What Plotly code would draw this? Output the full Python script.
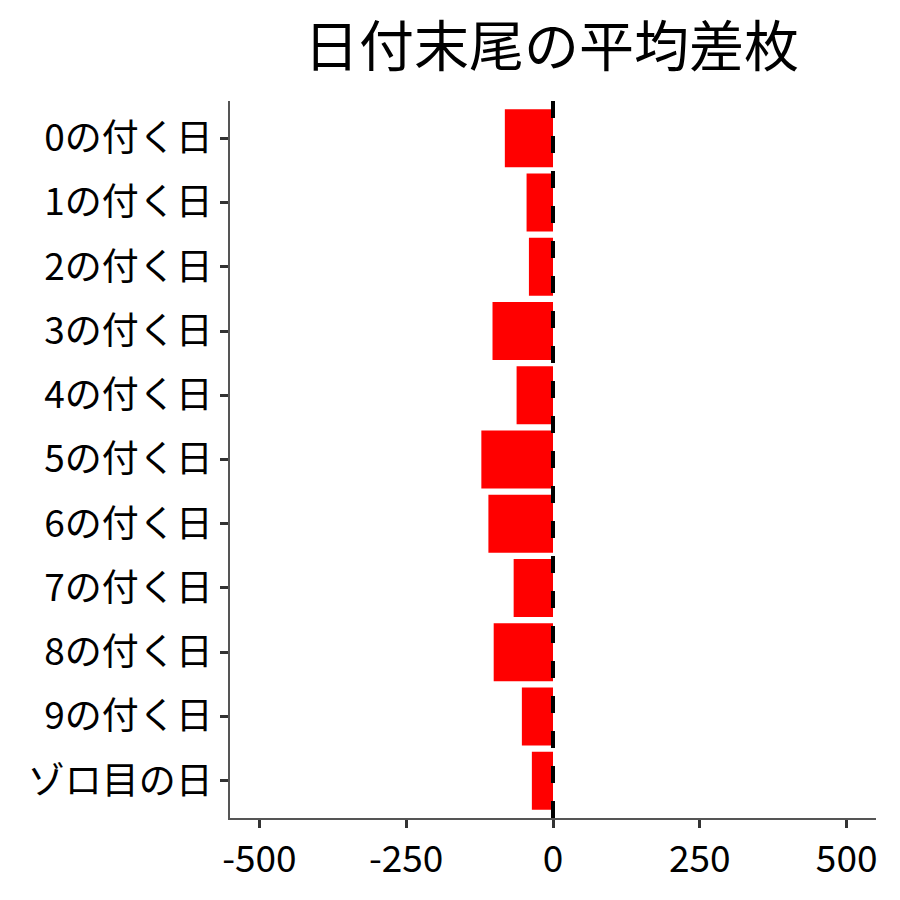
import plotly.graph_objects as go

# 日付末尾ごとの平均差枚
labels = ["0の付く日", "1の付く日", "2の付く日", "3の付く日", "4の付く日",
          "5の付く日", "6の付く日", "7の付く日", "8の付く日", "9の付く日", "ゾロ目の日"]
values = [-82, -45, -41, -103, -62, -122, -110, -67, -101, -53, -36]
x_ticks = [-500, -250, 0, 250, 500]

font = "Noto Sans CJK JP"

fig = go.Figure()
fig.add_trace(go.Bar(x=values, y=labels, orientation="h",
                     marker=dict(color="#ff0000", line=dict(width=0)),
                     width=0.9))

# ゼロの位置に点線
fig.add_vline(x=0, line=dict(color="black", width=4, dash="17px,18px"))

# ページの余白(8px)を考慮したマージン
fig.update_layout(
    title=dict(text="日付末尾の平均差枚", x=0.604, xanchor="center", y=0.957, yanchor="middle",
               font=dict(family=font, size=55, color="black")),
    width=900, height=900,
    margin=dict(l=222, r=32, t=93, b=90),
    plot_bgcolor="white", paper_bgcolor="white",
    showlegend=False,
    font=dict(family=font, color="black"),
)
fig.update_xaxes(range=[-550, 550], tickvals=x_ticks, ticktext=[str(v) for v in x_ticks],
                 showgrid=False, zeroline=False, showline=True, linecolor="#555555", linewidth=1.5,
                 ticks="outside", ticklen=8, tickwidth=3, tickcolor="#333333", automargin=False,
                 tickfont=dict(family=font, size=37, color="black"))
fig.update_yaxes(range=[len(labels) - 1 + 0.58, -0.58], autorange=False,
                 showgrid=False, zeroline=False,
                 showline=True, linecolor="#555555", linewidth=1.5,
                 ticks="outside", ticklen=8, tickwidth=3, tickcolor="#333333", automargin=False,
                 tickfont=dict(family=font, size=37, color="black"))

fig.write_html("out.html")
